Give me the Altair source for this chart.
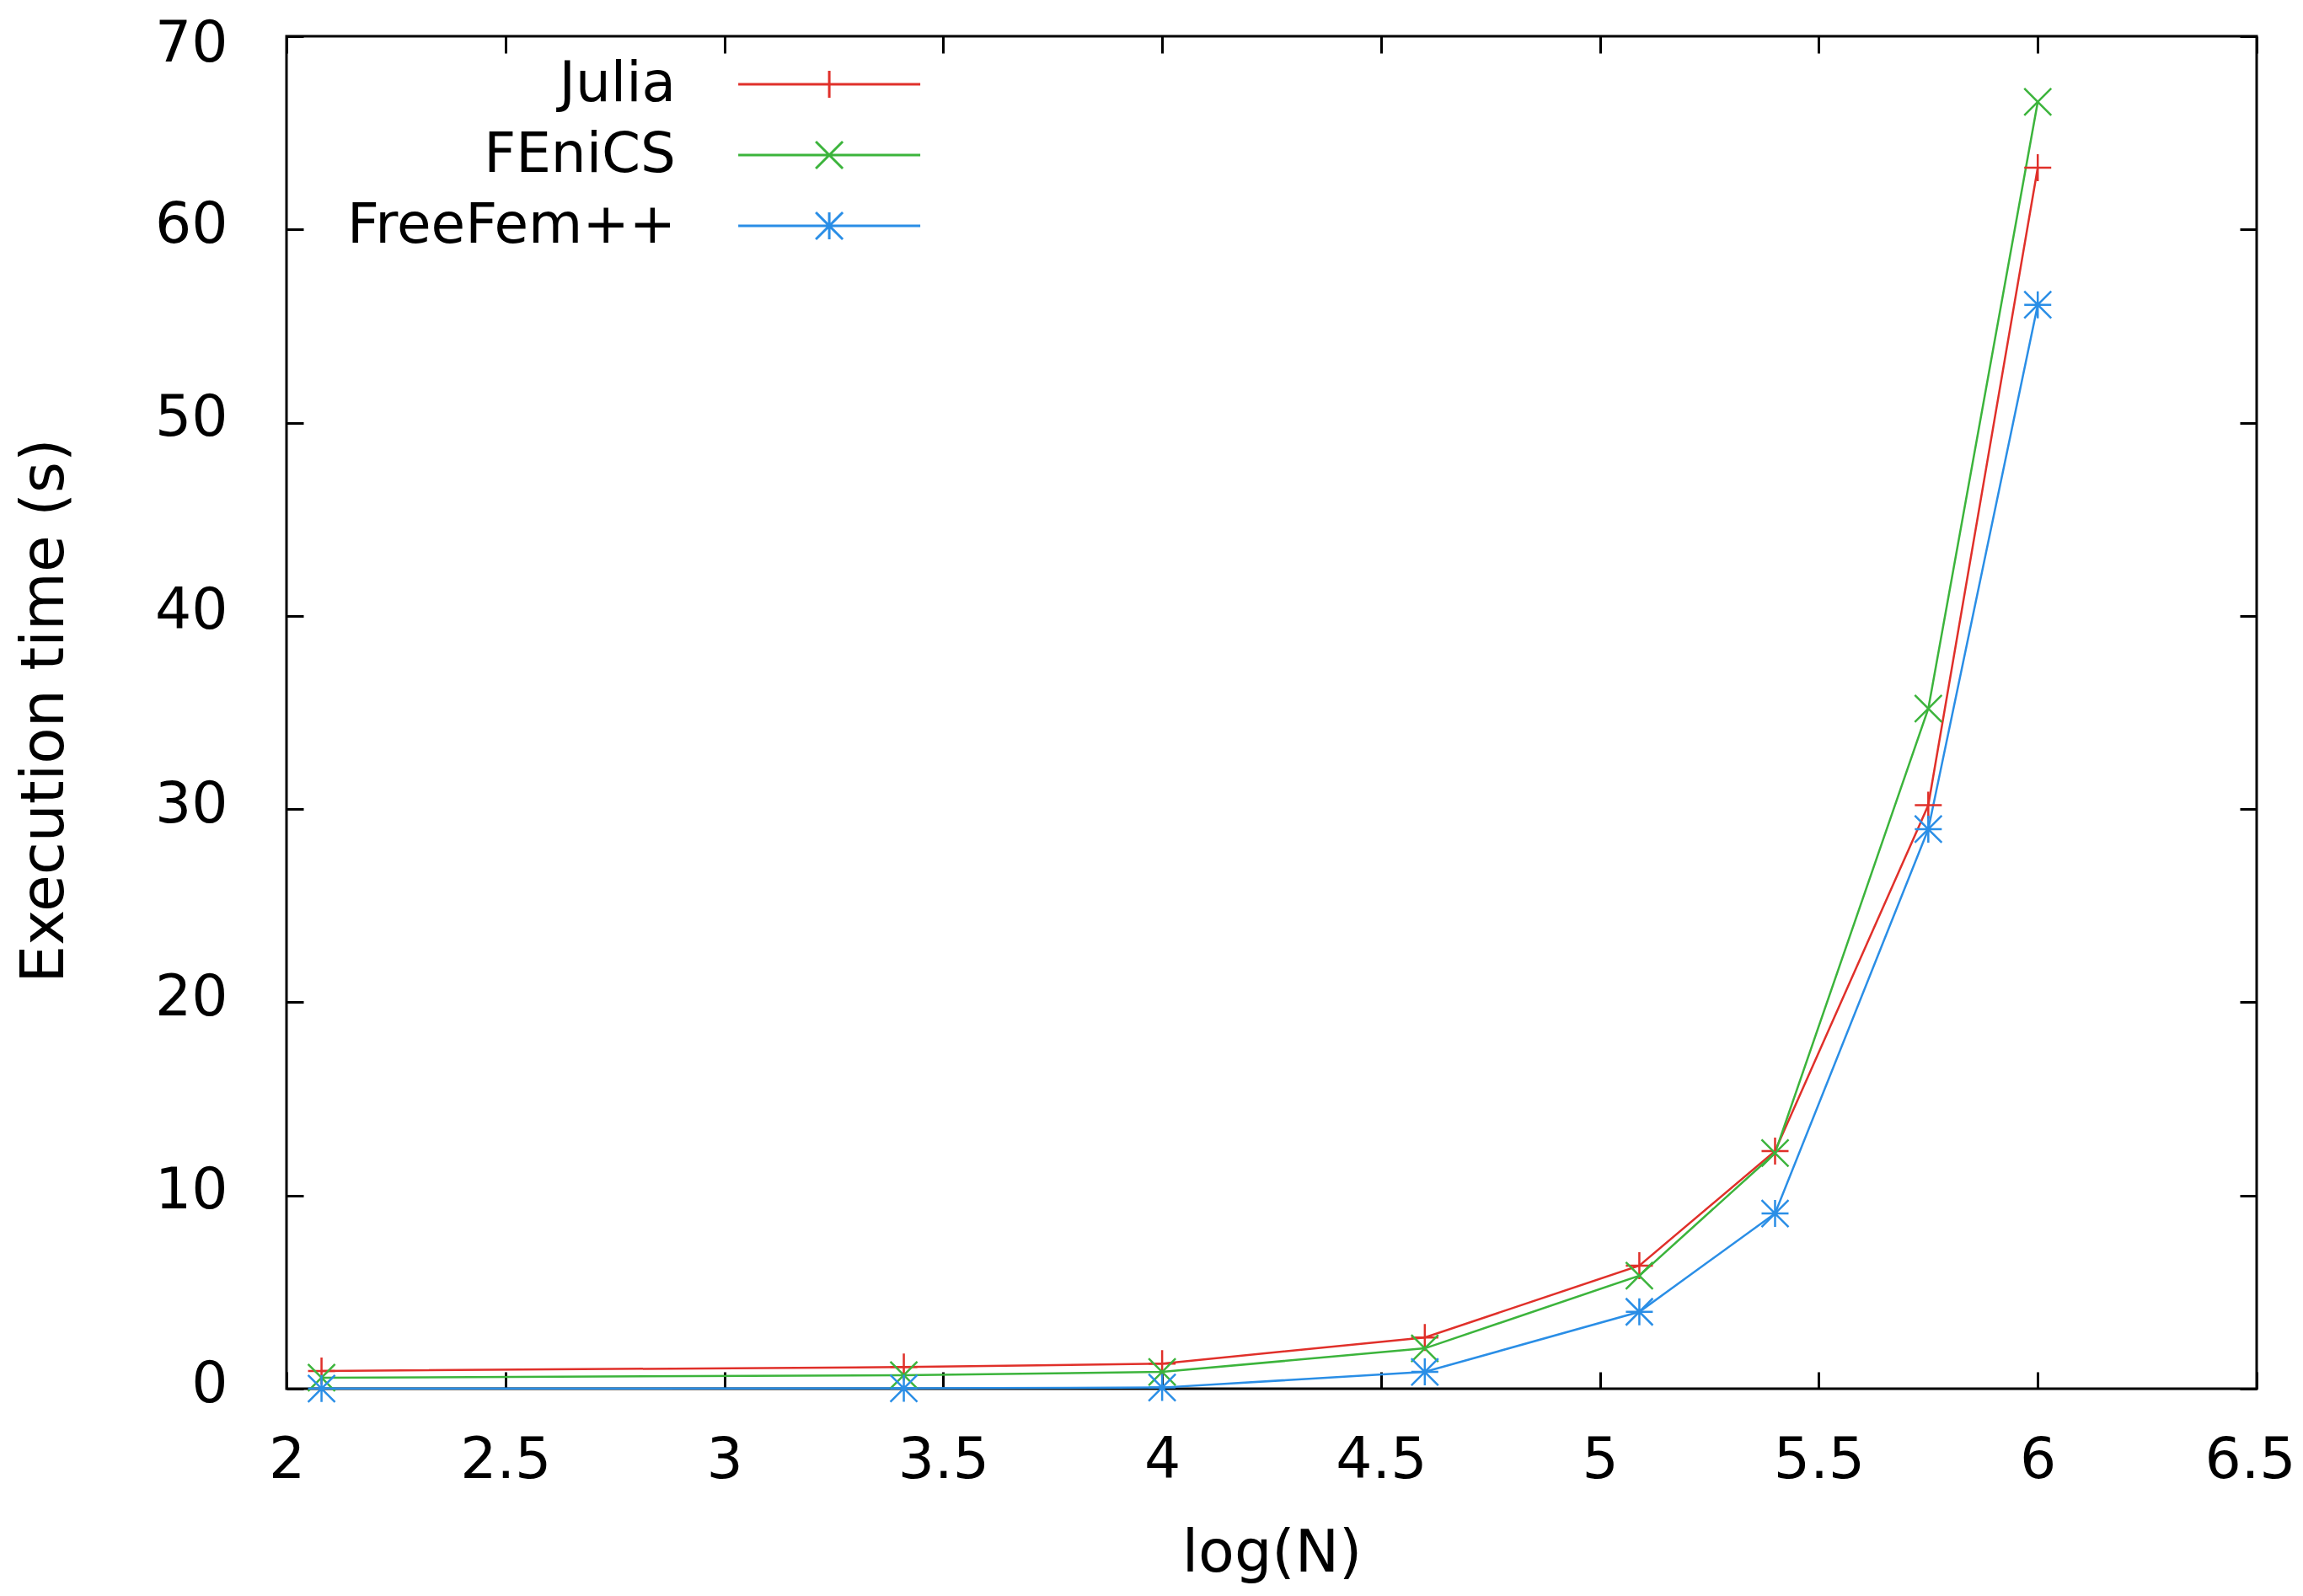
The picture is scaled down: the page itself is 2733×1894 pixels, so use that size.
import altair as alt
import pandas as pd

# ---- data ----
log_n = [2.08, 3.41, 4.0, 4.6, 5.09, 5.4, 5.75, 6.0]
julia = [0.92, 1.12, 1.3, 2.65, 6.37, 12.3, 30.2, 63.2]
fenics = [0.57, 0.7, 0.87, 2.09, 5.85, 12.2, 35.2, 66.6]
freefem = [0.01, 0.02, 0.06, 0.87, 3.98, 9.07, 28.96, 56.1]
series = ["Julia", "FEniCS", "FreeFem++"]
x_ticks = [2, 2.5, 3, 3.5, 4, 4.5, 5, 5.5, 6, 6.5]
y_ticks = [0, 10, 20, 30, 40, 50, 60, 70]

# ---- styles ----
colors = ["#e0302a", "#3cb43c", "#2a8ee6"]
marker_paths = [
    "M-1,0L1,0M0,-1L0,1",
    "M-1,-1L1,1M-1,1L1,-1",
    "M-1,0L1,0M0,-1L0,1M-1,-1L1,1M-1,1L1,-1",
]
# legend sample: line + marker, drawn to the right of the (right-aligned) label
c, h, m = 6.1, 3.0, 0.444
legend_paths = [
    f"M{c-h},0L{c+h},0M{c},-{m}L{c},{m}",
    f"M{c-h},0L{c+h},0M{c-m},-{m}L{c+m},{m}M{c-m},{m}L{c+m},-{m}",
    f"M{c-h},0L{c+h},0M{c},-{m}L{c},{m}M{c-m},-{m}L{c+m},{m}M{c-m},{m}L{c+m},-{m}",
]
FONT = "DejaVu Sans"

rows = []
for name, vals in zip(series, [julia, fenics, freefem]):
    for xv, yv in zip(log_n, vals):
        rows.append({"logN": xv, "time": yv, "series": name})
df = pd.DataFrame(rows)

xs = alt.Scale(domain=[2, 6.5], nice=False, zero=False)
ys = alt.Scale(domain=[0, 70], nice=False, zero=False)
cs = alt.Scale(domain=series, range=colors)

base = alt.Chart(df)

x_axis = alt.Axis(
    orient="bottom", values=x_ticks, format="~g", offset=-20, tickSize=20,
    tickWidth=3, domain=False, grid=False, labelFontSize=68, labelPadding=105,
    labelBaseline="alphabetic", labelFlush=False, labelOverlap=False, labelLimit=400,
    labelOffset={"expr": "datum.value >= 6.5 ? -8 : 0"},
    title="log(N)", titleFontSize=70, titleFontWeight="normal",
    titleY=236, titleBaseline="alphabetic",
)
y_axis = alt.Axis(
    orient="left", values=y_ticks, format="d", offset=-20, tickSize=20,
    tickWidth=3, domain=False, grid=False, labelFontSize=68, labelPadding=70,
    labelBaseline="middle", labelOffset={"expr": "datum.value >= 70 ? 9 : -5"},
    labelFlush=False, labelOverlap=False, labelLimit=400,
    title="Execution time (s)", titleFontSize=71, titleFontWeight="normal",
    titleX=-286, titleY=800, titleAngle=270, titleAlign="center",
    titleBaseline="alphabetic",
)

lines = base.mark_line(strokeWidth=2.5).encode(
    x=alt.X("logN:Q", scale=xs, axis=x_axis),
    y=alt.Y("time:Q", scale=ys, axis=y_axis),
    color=alt.Color("series:N", scale=cs, legend=None),
)

points = base.mark_point(filled=False, strokeWidth=2.5, size=1024, opacity=1).encode(
    x=alt.X("logN:Q", scale=xs, axis=None),
    y=alt.Y("time:Q", scale=ys, axis=None),
    color=alt.Color("series:N", scale=cs, legend=None),
    shape=alt.Shape("series:N", scale=alt.Scale(domain=series, range=marker_paths), legend=None),
)

leg = alt.Legend(
    orient="none", legendX=387, legendY=19.5, title=None,
    labelAlign="right", labelOffset=0, symbolOffset=0, labelFontSize=66, labelFont=FONT,
    labelColor="black", labelLimit=1000, symbolSize=5184, symbolStrokeWidth=3,
    symbolOpacity=1, rowPadding=13, padding=0,
)

mirror_x = alt.Axis(orient="top", values=x_ticks, offset=-20, tickSize=20, tickWidth=3,
                    labels=False, domain=False, grid=False, title=None)
mirror_y = alt.Axis(orient="right", values=y_ticks, offset=-20, tickSize=20, tickWidth=3,
                    labels=False, domain=False, grid=False, title=None)

legend_layer = base.mark_point(filled=False, opacity=0).encode(
    x=alt.X("logN:Q", scale=xs, axis=mirror_x),
    y=alt.Y("time:Q", scale=ys, axis=mirror_y),
    color=alt.Color("series:N", scale=cs, legend=leg),
    shape=alt.Shape("series:N", scale=alt.Scale(domain=series, range=legend_paths), legend=leg),
)

chart = (
    alt.layer(lines, points, legend_layer)
    .resolve_scale(color="independent", shape="independent")
    .resolve_axis(x="independent", y="independent")
    .properties(
        width=2338, height=1605,
        autosize=alt.AutoSizeParams(type="none"),
        padding={"left": 332, "top": 35, "right": 47, "bottom": 232},
    )
    .configure_view(stroke="black", strokeWidth=3)
    .configure_axis(labelFont=FONT, titleFont=FONT, labelColor="black",
                    titleColor="black", tickColor="black")
)

chart.save("out.html", embed_options={"renderer": "svg", "actions": False})
